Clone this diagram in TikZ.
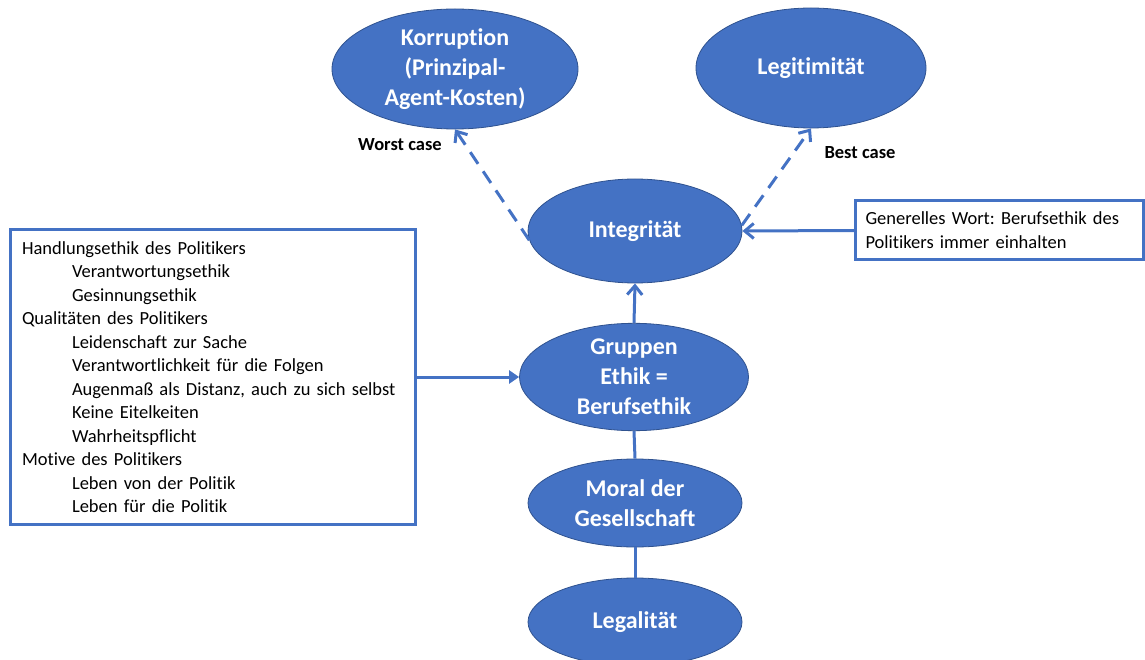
\documentclass[tikz,border=0pt]{standalone}
\usepackage{fontspec}
\setmainfont{Carlito}[Ligatures=NoCommon]
\frenchspacing
\usetikzlibrary{shapes.geometric,arrows.meta}
\definecolor{mblue}{HTML}{4472C4}
\definecolor{dblue}{HTML}{2F528F}
\begin{document}
\begin{tikzpicture}[x=1pt,y=-1pt,
  oval/.style={ellipse,fill=mblue,draw=dblue,line width=0.8pt,inner sep=0pt,text=white,align=center,font=\frenchspacing\bfseries\fontsize{24}{30}\selectfont},
  tbox/.style={rectangle,draw=mblue,line width=3pt,fill=white,inner sep=0pt,align=left,font=\frenchspacing\fontsize{18.5}{23.5}\selectfont},
  conn/.style={draw=mblue,line width=3pt},
  arr/.style={conn,-{Straight Barb[length=9pt,width=15pt,line width=3pt]}},
  tarr/.style={conn,-{Triangle[length=10pt,width=13pt]}},
  dasharr/.style={arr,dash pattern=on 14pt off 9pt},
  lbl/.style={font=\frenchspacing\bfseries\fontsize{18.5}{22}\selectfont,text=black}
]
\useasboundingbox (0,0) rectangle (1145,660);
\node[oval,minimum width=246pt,minimum height=120pt] (korr) at (455,69) {Korruption\\(Prinzipal-\\Agent-Kosten)};
\node[oval,minimum width=230pt,minimum height=120pt] (legit) at (811,68) {Legitimität};
\node[oval,minimum width=214pt,minimum height=104pt] (integ) at (635,231) {Integrität};
\node[oval,minimum width=229pt,minimum height=104pt] (grp) at (634,377) {Gruppen\\Ethik =\\Berufsethik};
\node[oval,minimum width=214pt,minimum height=88pt] (moral) at (635,503) {Moral der\\Gesellschaft};
\node[oval,minimum width=214pt,minimum height=88pt] (legal) at (635,622) {Legalität};

\node[tbox,minimum width=405pt,minimum height=294pt,text width=381pt] (lbox) at (212.5,377) {%
Handlungsethik des Politikers\\
\hspace*{50pt}Verantwortungsethik\\
\hspace*{50pt}Gesinnungsethik\\
Qualitäten des Politikers\\
\hspace*{50pt}Leidenschaft zur Sache\\
\hspace*{50pt}Verantwortlichkeit für die Folgen\\
\hspace*{50pt}Augenmaß als Distanz, auch zu sich selbst\\
\hspace*{50pt}Keine Eitelkeiten\\
\hspace*{50pt}Wahrheitspflicht\\
Motive des Politikers\\
\hspace*{50pt}Leben von der Politik\\
\hspace*{50pt}Leben für die Politik};

\node[tbox,minimum width=288pt,minimum height=59pt,text width=268pt,font=\frenchspacing\fontsize{18.5}{24}\selectfont] (rbox) at (999.5,230.5) {Generelles Wort: Berufsethik des\\Politikers immer einhalten};

\node[lbl] (worst) at (400,145) {Worst case};
\node[lbl] (best) at (860,153) {Best case};

\draw[tarr] (lbox.east |- grp.west) -- (grp.west);
\draw[arr] (rbox.west) -- (integ.east);
\draw[arr] (grp.north) -- (integ.south);
\draw[conn] (grp.south) -- (moral.north);
\draw[conn] (moral.south) -- (legal.north);
\draw[dasharr] (integ.185) -- (korr.south);
\draw[dasharr] (integ.3) -- (legit.south);
\end{tikzpicture}
\end{document}
